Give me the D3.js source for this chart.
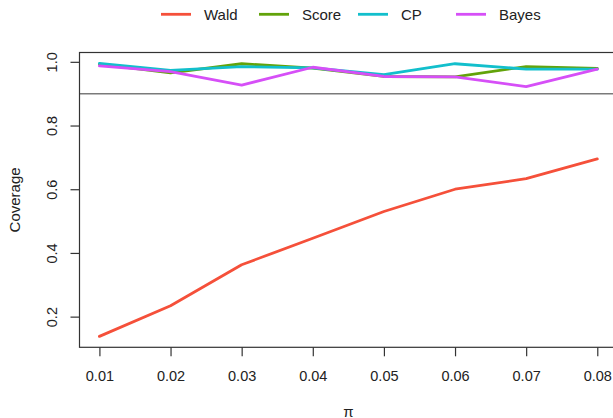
<!DOCTYPE html>
<html>
<head>
<meta charset="utf-8">
<script src="https://cdn.jsdelivr.net/npm/d3@7"></script>
<style>
  html, body { margin: 0; padding: 0; background: #fff; }
  svg { display: block; font-family: "Liberation Sans", Arial, Helvetica, sans-serif; }
</style>
</head>
<body>
<div id="chart"></div>
<script>
// data
const pis = [0.01, 0.02, 0.03, 0.04, 0.05, 0.06, 0.07, 0.08];
const wald = [0.138, 0.234, 0.363, 0.446, 0.530, 0.600, 0.633, 0.695];
const score = [0.993, 0.965, 0.994, 0.980, 0.954, 0.953, 0.985, 0.979];
const cp = [0.995, 0.973, 0.985, 0.981, 0.960, 0.994, 0.977, 0.977];
const bayes = [0.987, 0.969, 0.927, 0.983, 0.954, 0.953, 0.922, 0.977];
const refLevel = 0.9;

const xTicks = [0.01, 0.02, 0.03, 0.04, 0.05, 0.06, 0.07, 0.08];
const yTicks = [0.2, 0.4, 0.6, 0.8, 1.0];

const seriesNames = ["Wald", "Score", "CP", "Bayes"];
const seriesValues = [wald, score, cp, bayes];
const seriesColors = ["#F5503A", "#62A30A", "#12BFCC", "#D64FF7"];

const width = 613, height = 418;
const fontSize = 14.5;
const labelSize = 15;

const svg = d3.select("#chart")
  .append("svg")
  .attr("width", width)
  .attr("height", height);

// R-style 4% padding around the data range
const allY = seriesValues.flat();
const yMin = d3.min(allY), yMax = d3.max(allY);
const yPad = (yMax - yMin) * 0.04;
const xPad = (d3.max(pis) - d3.min(pis)) * 0.04;

const x = d3.scaleLinear()
  .domain([d3.min(pis) - xPad, d3.max(pis) + xPad])
  .range([79.5, 617.2]);

const y = d3.scaleLinear()
  .domain([yMin - yPad, yMax + yPad])
  .range([347.3, 52.5]);

// series lines (clipped to plot box)
svg.append("defs").append("clipPath")
  .attr("id", "plotclip")
  .append("rect")
  .attr("x", x.range()[0])
  .attr("y", y.range()[1])
  .attr("width", x.range()[1] - x.range()[0])
  .attr("height", y.range()[0] - y.range()[1]);

// reference line at 0.9
svg.append("line")
  .attr("x1", x.range()[0])
  .attr("x2", x.range()[1])
  .attr("y1", y(refLevel))
  .attr("y2", y(refLevel))
  .attr("stroke", "#7a7a7a")
  .attr("stroke-width", 1.6);

const line = d3.line()
  .x((d, i) => x(pis[i]))
  .y(d => y(d));

svg.append("g")
  .attr("clip-path", "url(#plotclip)")
  .selectAll("path")
  .data(seriesValues)
  .enter()
  .append("path")
  .attr("d", d => line(d))
  .attr("fill", "none")
  .attr("stroke", (d, i) => seriesColors[i])
  .attr("stroke-width", 2.8)
  .attr("stroke-linejoin", "round")
  .attr("stroke-linecap", "round");

// box
svg.append("rect")
  .attr("x", x.range()[0])
  .attr("y", y.range()[1])
  .attr("width", x.range()[1] - x.range()[0])
  .attr("height", y.range()[0] - y.range()[1])
  .attr("fill", "none")
  .attr("stroke", "#333")
  .attr("stroke-width", 1.2);

// x axis
const xAxis = svg.append("g")
  .attr("transform", `translate(0,${y.range()[0]})`)
  .call(d3.axisBottom(x).tickValues(xTicks).tickFormat(d3.format(".2f")).tickSizeOuter(0).tickSizeInner(9).tickPadding(14));
xAxis.select(".domain").remove();
xAxis.selectAll(".tick line").attr("stroke", "#333").attr("stroke-width", 1.2);
xAxis.selectAll(".tick text")
  .attr("fill", "#222")
  .attr("font-size", fontSize)
  .attr("font-family", null);

// y axis
const yAxis = svg.append("g")
  .attr("transform", `translate(${x.range()[0]},0)`)
  .call(d3.axisLeft(y).tickValues(yTicks).tickFormat(d3.format(".1f")).tickSizeOuter(0).tickSizeInner(9));
yAxis.select(".domain").remove();
yAxis.selectAll(".tick line").attr("stroke", "#333").attr("stroke-width", 1.2);
yAxis.selectAll(".tick text")
  .attr("x", null).attr("dy", null)
  .attr("transform", "translate(-22.5,0) rotate(-90)")
  .attr("text-anchor", "middle")
  .attr("fill", "#222")
  .attr("font-size", fontSize)
  .attr("font-family", null);

// axis titles
svg.append("text")
  .attr("transform", `translate(19.5,${(y.range()[0] + y.range()[1]) / 2}) rotate(-90)`)
  .attr("text-anchor", "middle")
  .attr("font-size", labelSize)
  .attr("fill", "#222")
  .text("Coverage");

svg.append("text")
  .attr("x", (x.range()[0] + x.range()[1]) / 2)
  .attr("y", 416.5)
  .attr("text-anchor", "middle")
  .attr("font-size", labelSize)
  .attr("fill", "#222")
  .text("π");

// legend
const legendX = [161, 259, 358, 456];
const legend = svg.append("g")
  .selectAll("g")
  .data(seriesNames)
  .enter()
  .append("g")
  .attr("transform", (d, i) => `translate(${legendX[i]},14.3)`);
legend.append("line")
  .attr("x1", 0).attr("x2", 30)
  .attr("stroke", (d, i) => seriesColors[i])
  .attr("stroke-width", 2.8);
legend.append("text")
  .attr("x", 43)
  .attr("y", 5.5)
  .attr("font-size", labelSize)
  .attr("fill", "#222")
  .text(d => d);
</script>
</body>
</html>
